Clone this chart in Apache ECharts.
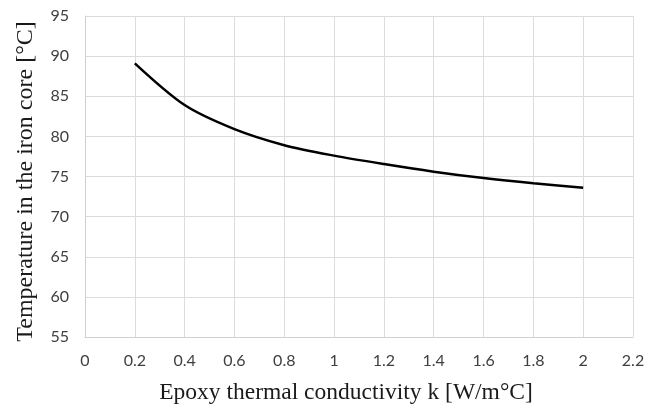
<!DOCTYPE html>
<html><head><meta charset="utf-8">
<script src="https://cdn.jsdelivr.net/npm/echarts@6/dist/echarts.min.js"></script>
<style>html,body{margin:0;padding:0;background:#fff}#c{width:657px;height:410px}</style>
</head><body><div id="c"></div>
<script>
const kValues = [0.2, 0.4, 0.6, 0.8, 1.0, 1.2, 1.4, 1.6, 1.8, 2.0];
const tempValues = [89.1, 83.9, 80.9, 78.9, 77.6, 76.55, 75.6, 74.8, 74.15, 73.6];
const xTitle = 'Epoxy thermal conductivity k [W/m°C]';
const yTitle = 'Temperature in the iron core [°C]';

const chart = echarts.init(document.getElementById('c'), null, {renderer: 'canvas'});
chart.setOption({
  animation: false,
  grid: {left: 85, right: 24, top: 16, bottom: 71, containLabel: false},
  xAxis: {
    type: 'value', min: 0, max: 2.2, interval: 0.2,
    name: xTitle, nameLocation: 'middle', nameGap: 44,
    nameTextStyle: {fontFamily: 'Liberation Serif', fontSize: 23.5, color: '#1a1a1a', padding: [0, 26, 0, 0]},
    axisLine: {show: true, lineStyle: {color: '#d0d0d0', width: 1}},
    axisTick: {show: false},
    axisLabel: {fontFamily: 'Lato', fontSize: 16, color: '#404040', margin: 16,
      formatter: v => String(Math.round(v * 10) / 10)},
    splitLine: {show: true, lineStyle: {color: '#dcdcdc', width: 1}}
  },
  yAxis: {
    type: 'value', min: 55, max: 95, interval: 5,
    name: yTitle, nameLocation: 'middle', nameGap: 47,
    nameTextStyle: {fontFamily: 'Liberation Serif', fontSize: 24, color: '#1a1a1a', padding: [0, 10, 0, 0]},
    axisLine: {show: true, lineStyle: {color: '#d0d0d0', width: 1}},
    axisTick: {show: false},
    axisLabel: {fontFamily: 'Lato', fontSize: 16, color: '#404040', margin: 16},
    splitLine: {show: true, lineStyle: {color: '#dcdcdc', width: 1}}
  },
  series: [{
    type: 'line',
    data: kValues.map((k, i) => [k, tempValues[i]]),
    smooth: 0.3,
    showSymbol: false,
    lineStyle: {color: '#000', width: 2.5}
  }]
});
</script></body></html>
